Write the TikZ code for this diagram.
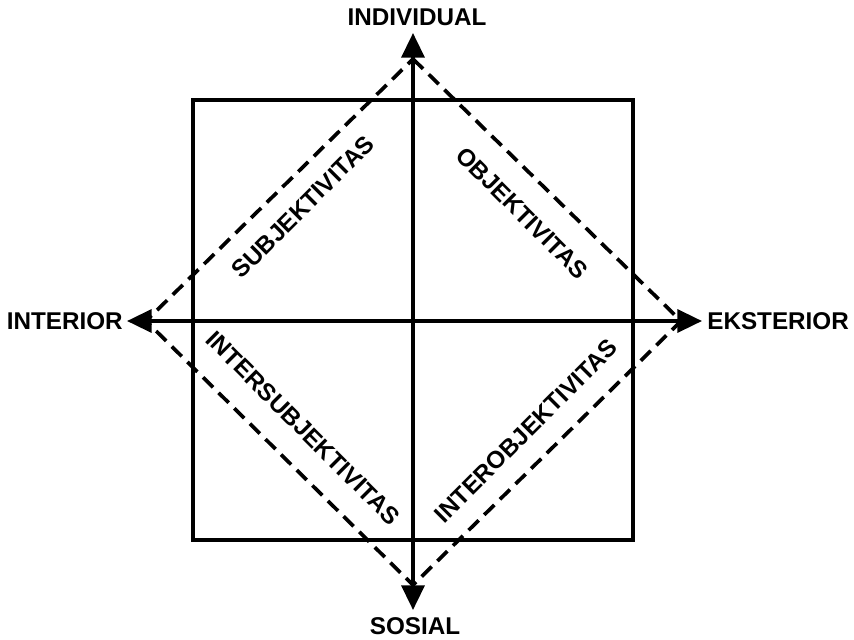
\documentclass[tikz,border=0pt]{standalone}
\usepackage{fontspec}
\setmainfont{Liberation Sans}
\usetikzlibrary{arrows.meta,
	positioning}

\tikzset{
	axis/.style={line width=2.1pt, -{Triangle[length=14pt,width=13pt]}},
	quadrant/.style={line width=2.1pt, dash pattern=on 8pt off 4.5pt},
	lbl/.style={font=\fontsize{13.8}{16}\selectfont\bfseries, inner sep=0pt}
}

\begin{document}
\begin{tikzpicture}[x=0.02cm, y=-0.02cm]
	\useasboundingbox (0,0) rectangle (854,639);
	% frame
	\draw[line width=2pt] (193,100) rectangle (633,540);
	% diamond corners and axis tips
	\coordinate (c) at (413,321);
	\coordinate (dn) at (413,59);
	\coordinate (ds) at (413,585);
	\coordinate (dw) at (146,321);
	\coordinate (de) at (681,321);
	\coordinate (tn) at (413,33);
	\coordinate (ts) at (413,610);
	\coordinate (tw) at (127,321);
	\coordinate (te) at (702,321);
	% dashed diamond
	\draw[quadrant] (dn) -- (de) -- (ds) -- (dw) -- cycle;
	% axes
	\draw[axis] (c) -- (tn);
	\draw[axis] (c) -- (ts);
	\draw[axis] (c) -- (tw);
	\draw[axis] (c) -- (te);
	% axis labels
	\node[lbl] (individual) at (417,17) {INDIVIDUAL};
	\node[lbl] (sosial) at (415,626) {SOSIAL};
	\node[lbl, anchor=east] (interior) at (123,321) {INTERIOR};
	\node[lbl, anchor=west] (eksterior) at (707,321) {EKSTERIOR};
	% quadrant labels
	\node[lbl, rotate=45] (subj) at (303,207) {SUBJEKTIVITAS};
	\node[lbl, rotate=-45] (obj) at (522,213) {OBJEKTIVITAS};
	\node[lbl, rotate=-45] (intersubj) at (303,428) {INTERSUBJEKTIVITAS};
	\node[lbl, rotate=45] (interobj) at (526,431) {INTEROBJEKTIVITAS};
\end{tikzpicture}
\end{document}
